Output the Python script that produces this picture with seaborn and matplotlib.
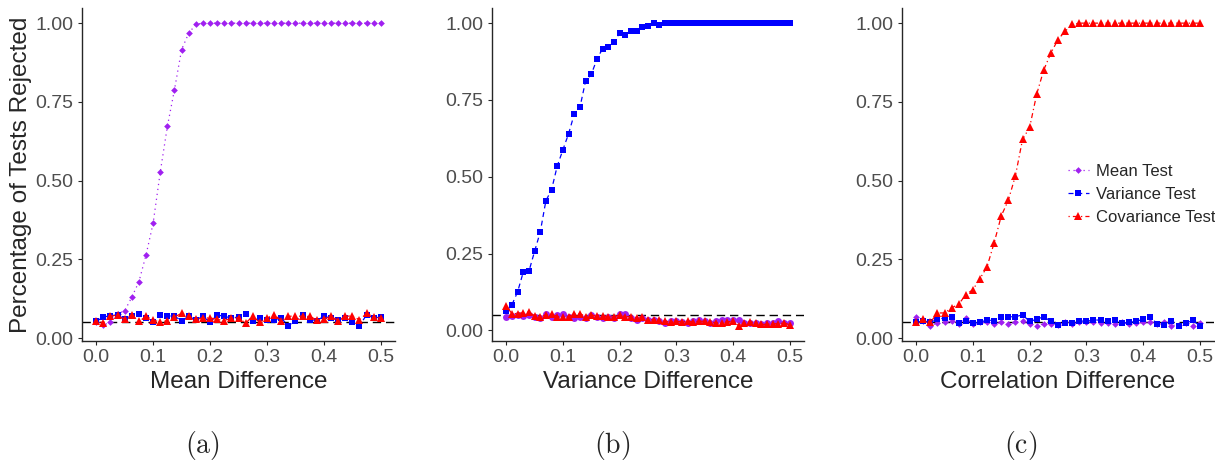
import numpy as np
import pandas as pd
import seaborn as sns
import matplotlib
matplotlib.use("Agg")
from matplotlib import pyplot as plt

# grids of the three simulations
x_ac = np.round(np.arange(41) * 0.0125, 4)
x_b = np.round(np.arange(51) * 0.01, 4)

# (a) mean difference
a_mean = [0.05, 0.042, 0.05, 0.077, 0.087, 0.13, 0.179, 0.264, 0.365, 0.527, 0.672,
          0.789, 0.916, 0.968, 0.996] + [1.0] * 26
a_var = [0.053, 0.067, 0.071, 0.074, 0.06, 0.069, 0.077, 0.064, 0.05, 0.074, 0.071,
         0.069, 0.056, 0.069, 0.058, 0.069, 0.05, 0.074, 0.069, 0.064, 0.067, 0.077,
         0.053, 0.064, 0.058, 0.058, 0.064, 0.039, 0.056, 0.072, 0.058, 0.056, 0.069,
         0.064, 0.058, 0.064, 0.05, 0.039, 0.074, 0.064, 0.067]
a_cov = [0.056, 0.048, 0.069, 0.074, 0.06, 0.074, 0.053, 0.069, 0.058, 0.05, 0.056,
         0.067, 0.079, 0.069, 0.06, 0.064, 0.064, 0.06, 0.056, 0.064, 0.064, 0.048,
         0.069, 0.05, 0.064, 0.074, 0.056, 0.069, 0.071, 0.069, 0.069, 0.058, 0.06,
         0.071, 0.056, 0.069, 0.071, 0.058, 0.079, 0.067, 0.064]

# (b) variance difference
b_mean = [0.045, 0.047, 0.05, 0.048, 0.05, 0.045, 0.04, 0.055, 0.045, 0.05, 0.055,
          0.045, 0.04, 0.045, 0.04, 0.05, 0.045, 0.04, 0.045, 0.04, 0.055, 0.055,
          0.04, 0.035, 0.04, 0.035, 0.035, 0.03, 0.025, 0.03, 0.03, 0.028, 0.025,
          0.03, 0.035, 0.03, 0.025, 0.03, 0.035, 0.035, 0.035, 0.035, 0.025, 0.025,
          0.025, 0.02, 0.025, 0.025, 0.03, 0.025, 0.025]
b_var = [0.063, 0.083, 0.125, 0.189, 0.192, 0.257, 0.32, 0.422, 0.458, 0.535, 0.588,
         0.64, 0.704, 0.726, 0.812, 0.833, 0.883, 0.917, 0.921, 0.938, 0.968, 0.96,
         0.975, 0.975, 0.989, 0.992, 0.999, 0.995] + [1.0] * 23
b_cov = [0.08, 0.055, 0.055, 0.058, 0.06, 0.048, 0.045, 0.05, 0.055, 0.045, 0.045,
         0.045, 0.055, 0.055, 0.045, 0.05, 0.048, 0.048, 0.045, 0.045, 0.05, 0.045,
         0.045, 0.042, 0.045, 0.035, 0.035, 0.033, 0.03, 0.028, 0.03, 0.028, 0.03,
         0.028, 0.03, 0.03, 0.028, 0.025, 0.025, 0.028, 0.03, 0.015, 0.025, 0.028,
         0.025, 0.02, 0.02, 0.022, 0.022, 0.025, 0.018]

# (c) correlation difference
c_mean = [0.066, 0.055, 0.04, 0.048, 0.05, 0.055, 0.045, 0.065, 0.045, 0.05, 0.05,
          0.045, 0.05, 0.045, 0.05, 0.055, 0.045, 0.04, 0.045, 0.045, 0.042, 0.05,
          0.045, 0.05, 0.05, 0.05, 0.048, 0.048, 0.045, 0.05, 0.045, 0.048, 0.05,
          0.05, 0.045, 0.05, 0.04, 0.042, 0.048, 0.04, 0.048]
c_var = [0.05, 0.055, 0.05, 0.06, 0.064, 0.066, 0.047, 0.055, 0.047, 0.05, 0.058,
         0.055, 0.066, 0.068, 0.068, 0.074, 0.053, 0.06, 0.068, 0.053, 0.041, 0.047,
         0.047, 0.055, 0.053, 0.058, 0.057, 0.055, 0.057, 0.047, 0.05, 0.053, 0.06,
         0.068, 0.045, 0.043, 0.053, 0.039, 0.047, 0.057, 0.039]
c_cov = [0.052, 0.06, 0.05, 0.08, 0.08, 0.096, 0.108, 0.138, 0.154, 0.189, 0.227,
         0.303, 0.388, 0.438, 0.516, 0.631, 0.669, 0.775, 0.852, 0.905, 0.948, 0.974,
         0.996] + [1.0] * 18

tests = ["Mean Test", "Variance Test", "Covariance Test"]
xlabels = ["Mean Difference", "Variance Difference", "Correlation Difference"]
captions = ["(a)", "(b)", "(c)"]

palette = {"Mean Test": "#A020F0", "Variance Test": "#0000FF", "Covariance Test": "#FF0000"}
dashes = {"Mean Test": (1, 3), "Variance Test": (4, 3), "Covariance Test": (1, 2.5, 4, 2.5)}

panels = [(x_ac, [a_mean, a_var, a_cov]),
          (x_b, [b_mean, b_var, b_cov]),
          (x_ac, [c_mean, c_var, c_cov])]

sns.set_style("ticks")
plt.rcParams["font.family"] = ["Liberation Sans", "DejaVu Sans"]
plt.rcParams["mathtext.fontset"] = "cm"

fig = plt.figure(figsize=(12.15, 4.62), dpi=100)
W, H = 1215, 462
boxes = [(82, 395), (492, 804), (902, 1214)]
cap_x = [202, 612, 1021]
msize = {"D": 3.4, "o": 5.0, "s": 5.0, "^": 6.0}

for k, (xs, ys) in enumerate(panels):
    l, r = boxes[k]
    ax = fig.add_axes([l / W, (H - 341) / H, (r - l) / W, 333 / H])
    df = pd.DataFrame({
        "x": np.tile(xs, 3),
        "y": np.concatenate(ys),
        "test": np.repeat(tests, len(xs)),
    })
    mk = {"Mean Test": "o" if k == 1 else "D", "Variance Test": "s", "Covariance Test": "^"}
    sns.lineplot(data=df, x="x", y="y", hue="test", style="test", hue_order=tests,
                 style_order=tests, palette=palette, dashes=dashes, markers=mk,
                 linewidth=0.9, markersize=5, markeredgewidth=0, ax=ax)
    for line in ax.lines:
        m = line.get_marker()
        if m in msize:
            line.set_markersize(msize[m])
    ax.axhline(0.05, color="black", ls=(0, (6, 3.5)), lw=1.0, zorder=1)

    allv = np.concatenate(ys)
    lo, hi = allv.min(), allv.max()
    pad = 0.05 * (hi - lo)
    ax.set_ylim(lo - pad, hi + pad)
    ax.set_xlim(-0.025, 0.525)
    ax.set_xticks([0, 0.1, 0.2, 0.3, 0.4, 0.5])
    ax.set_xticklabels(["0.0", "0.1", "0.2", "0.3", "0.4", "0.5"])
    ax.set_yticks([0, 0.25, 0.5, 0.75, 1.0])
    ax.set_yticklabels(["0.00", "0.25", "0.50", "0.75", "1.00"])
    ax.tick_params(axis="both", labelsize=14, labelcolor="#4D4D4D", length=3,
                   width=0.8, pad=3)
    for s in ["left", "bottom"]:
        ax.spines[s].set_linewidth(1.0)
    sns.despine(ax=ax)
    ax.set_xlabel(xlabels[k], fontsize=17.5, labelpad=3)
    if k == 0:
        ax.set_ylabel("Percentage of Tests Rejected", fontsize=17.5, labelpad=3)
    else:
        ax.set_ylabel("")

    if k == 2:
        handles, labels = ax.get_legend_handles_labels()
        ax.legend(handles, labels, loc="center left", bbox_to_anchor=(0.51, 0.44),
                  frameon=False, fontsize=12, handlelength=1.25,
                  handletextpad=0.45, labelspacing=0.5, borderaxespad=0)
    else:
        ax.get_legend().remove()

    fig.text(cap_x[k] / W, 1 - 446 / H, r"$\mathrm{" + captions[k] + "}$",
             fontsize=20, ha="center", va="center")

plt.savefig("out.png", dpi=100)
